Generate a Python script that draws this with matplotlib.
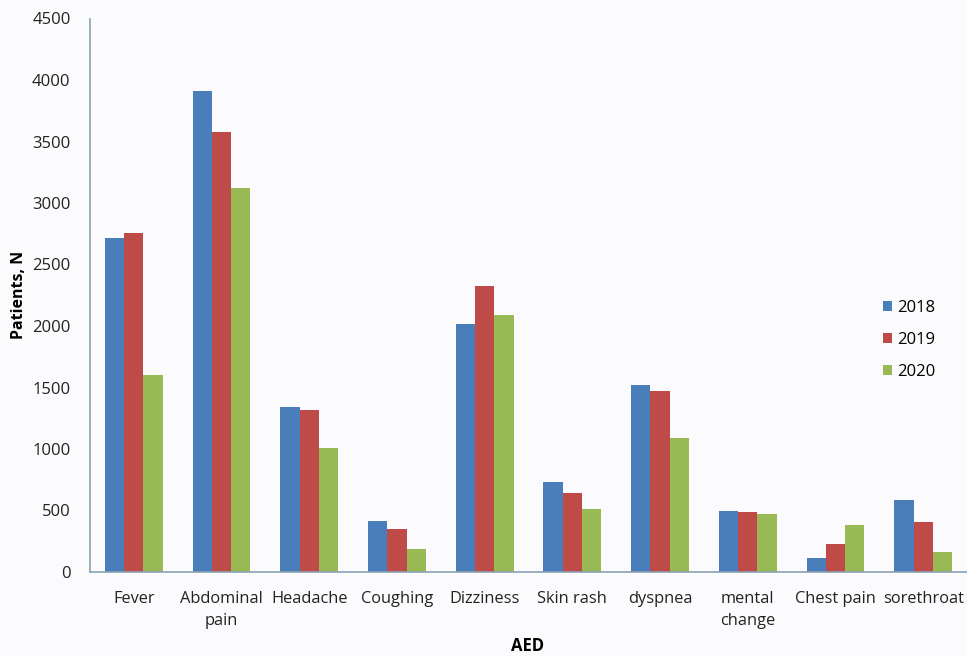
import matplotlib
matplotlib.use("Agg")
import matplotlib.pyplot as plt
import numpy as np

categories = ["Fever", "Abdominal\npain", "Headache", "Coughing", "Dizziness",
              "Skin rash", "dyspnea", "mental\nchange", "Chest pain", "sorethroat"]
years = ["2018", "2019", "2020"]
patients_2018 = [2718, 3913, 1339, 415, 2016, 729, 1523, 499, 114, 585]
patients_2019 = [2753, 3577, 1317, 347, 2328, 645, 1472, 491, 225, 409]
patients_2020 = [1602, 3119, 1011, 187, 2089, 510, 1092, 472, 382, 163]
y_ticks = [0, 500, 1000, 1500, 2000, 2500, 3000, 3500, 4000, 4500]

plt.rcParams["font.family"] = ["Open Sans", "DejaVu Sans"]

bg = "#fbfbfd"
fig = plt.figure(figsize=(9.67, 6.56), dpi=100, facecolor=bg)
ax = fig.add_axes([90 / 967, 1 - 572 / 656, 877 / 967, (572 - 18.5) / 656])
ax.set_facecolor(bg)

colors = ["#4a7ebb", "#be4b48", "#98b954"]
series = [patients_2018, patients_2019, patients_2020]
x = np.arange(len(categories))
w = 0.22
for i, (vals, c, yr) in enumerate(zip(series, colors, years)):
    ax.bar(x + (i - 1) * w, vals, width=w, color=c, label=yr, zorder=2)

ax.set_xlim(-0.5, len(categories) - 0.5)
ax.set_ylim(0, 4500)
ax.set_yticks(y_ticks)
ax.set_xticks(x)
ax.set_xticklabels(categories, fontsize=11.8, color="#222222", linespacing=1.45)
ax.tick_params(axis="y", length=0, pad=14, labelsize=12, labelcolor="#222222")
ax.tick_params(axis="x", length=0, pad=14)

for s in ["top", "right"]:
    ax.spines[s].set_visible(False)
for s in ["left", "bottom"]:
    ax.spines[s].set_color("#8aa2b4")
    ax.spines[s].set_linewidth(1.2)

ax.set_ylabel("Patients, N", fontsize=11.5, fontweight="bold")
ax.yaxis.set_label_coords(-63 / 877, 0.5)
fig.text(528 / 967, 1 - 646 / 656, "AED", fontsize=12, fontweight="bold",
         ha="center", va="center")

handles, labels = ax.get_legend_handles_labels()
fig.legend(handles, labels, loc="center left",
           bbox_to_anchor=(868 / 967, 1 - 340 / 656),
           frameon=False, fontsize=12, handlelength=0.55, handleheight=0.55,
           handletextpad=0.3, labelspacing=0.95)

fig.savefig("out.png", dpi=100, facecolor=bg)
